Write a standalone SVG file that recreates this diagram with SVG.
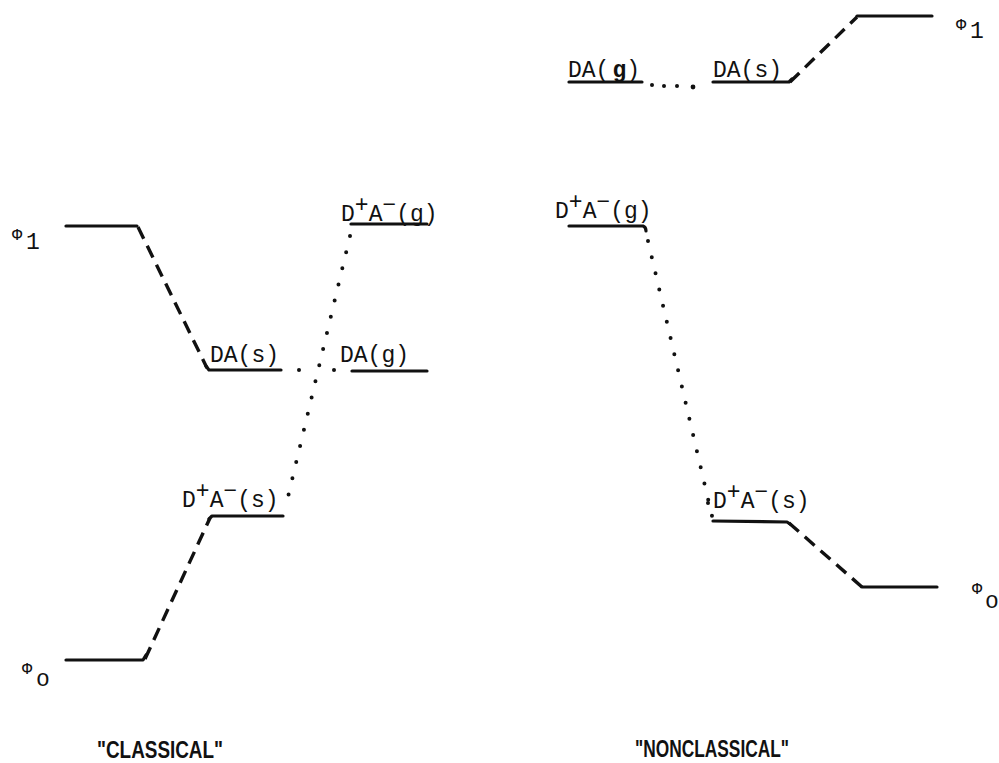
<svg xmlns="http://www.w3.org/2000/svg" width="999" height="763" viewBox="0 0 999 763">
<style>
.lvl{fill:none;stroke:#111;stroke-width:3.2;stroke-linecap:round;stroke-linejoin:round}
.dash{fill:none;stroke:#111;stroke-width:3.4;stroke-dasharray:13 8}
.dot{fill:none;stroke:#111;stroke-width:4;stroke-linecap:round;stroke-dasharray:0 16.6}
.t{font-family:"Liberation Mono","DejaVu Sans Mono",monospace;font-size:23px;fill:#111}
.phi{font-family:"Liberation Mono","DejaVu Sans Mono",monospace;font-size:17px;fill:#111}
.sub{font-family:"Liberation Mono","DejaVu Sans Mono",monospace;font-size:23px;fill:#111}
.cap{font-family:"Liberation Sans","DejaVu Sans",sans-serif;font-size:23px;font-weight:bold;fill:#111}
</style>
<rect width="999" height="763" fill="#fff"/>
<g id="connectors">
<path class="dash" d="M138 227 L207 368"/>
<path class="dash" d="M145 659 L210 518"/>
<path class="dot" d="M350 236 L287 501"/>
<circle cx="299" cy="370" r="2" fill="#111"/>
<circle cx="334" cy="370" r="2" fill="#111"/>
<path class="dash" d="M790 82 L857 17"/>
<circle cx="652" cy="85" r="2" fill="#111"/>
<circle cx="664" cy="86" r="2" fill="#111"/>
<circle cx="677" cy="86" r="2" fill="#111"/>
<circle cx="693" cy="87" r="2.4" fill="#111"/>
<path class="dot" d="M648 241 L712 516"/>
<circle cx="708" cy="503" r="2" fill="#111"/>
<path class="dash" d="M789 523 L862 587"/>
</g>
<g id="classical-phi1">
<path class="lvl" d="M66 226 L137 226"/>
<text class="phi" x="12" y="240">Φ</text>
<text class="sub" x="26" y="249">1</text>
</g>
<g id="classical-DA-s">
<path class="lvl" d="M206 366 L209 370 L281 370"/>
<text class="t" x="210" y="362">DA(s)</text>
</g>
<g id="classical-DA-g">
<path class="lvl" d="M352 371 L427 371"/>
<text class="t" x="340" y="362">DA(g)</text>
</g>
<g id="classical-DpAm-g">
<path class="lvl" d="M351 224 L427 224"/>
<text class="t" x="341" y="221">D<tspan dy="-9">+</tspan><tspan dy="9">A</tspan><tspan dy="-9">−</tspan><tspan dy="9">(g)</tspan></text>
</g>
<g id="classical-DpAm-s">
<path class="lvl" d="M209 519 L212 516 L283 516"/>
<text class="t" x="182" y="507">D<tspan dy="-9">+</tspan><tspan dy="9">A</tspan><tspan dy="-9">−</tspan><tspan dy="9">(s)</tspan></text>
</g>
<g id="classical-phi0">
<path class="lvl" d="M66 660 L143 660 L146 655"/>
<text class="phi" x="22" y="674">Φ</text>
<text class="sub" x="36" y="686">o</text>
</g>
<g id="nonclassical-phi1">
<path class="lvl" d="M857 16 L932 16"/>
<text class="phi" x="956" y="30">Φ</text>
<text class="sub" x="970" y="38">1</text>
</g>
<g id="nonclassical-DA-g">
<path class="lvl" d="M569 82 L642 82"/>
<text class="t" x="568" y="77">DA(<tspan dx="3" font-weight="bold">g</tspan>)</text>
</g>
<g id="nonclassical-DA-s">
<path class="lvl" d="M713 82 L789 82 L792 79"/>
<text class="t" x="713" y="77">DA(s)</text>
</g>
<g id="nonclassical-DpAm-g">
<path class="lvl" d="M569 226 L643 226 Q646 227 646 231"/>
<text class="t" x="555" y="218">D<tspan dy="-9">+</tspan><tspan dy="9">A</tspan><tspan dy="-9">−</tspan><tspan dy="9">(g)</tspan></text>
</g>
<g id="nonclassical-DpAm-s">
<path class="lvl" d="M713 521 L787 522 L790 524"/>
<text class="t" x="713" y="508">D<tspan dy="-9">+</tspan><tspan dy="9">A</tspan><tspan dy="-9">−</tspan><tspan dy="9">(s)</tspan></text>
</g>
<g id="nonclassical-phi0">
<path class="lvl" d="M862 587 L937 587"/>
<text class="phi" x="972" y="594">Φ</text>
<text class="sub" x="985" y="608">o</text>
</g>
<g id="labels">
<text class="cap" x="97" y="758" textLength="126" lengthAdjust="spacingAndGlyphs">"CLASSICAL"</text>
<text class="cap" x="635" y="757" textLength="154" lengthAdjust="spacingAndGlyphs">"NONCLASSICAL"</text>
</g>
</svg>
